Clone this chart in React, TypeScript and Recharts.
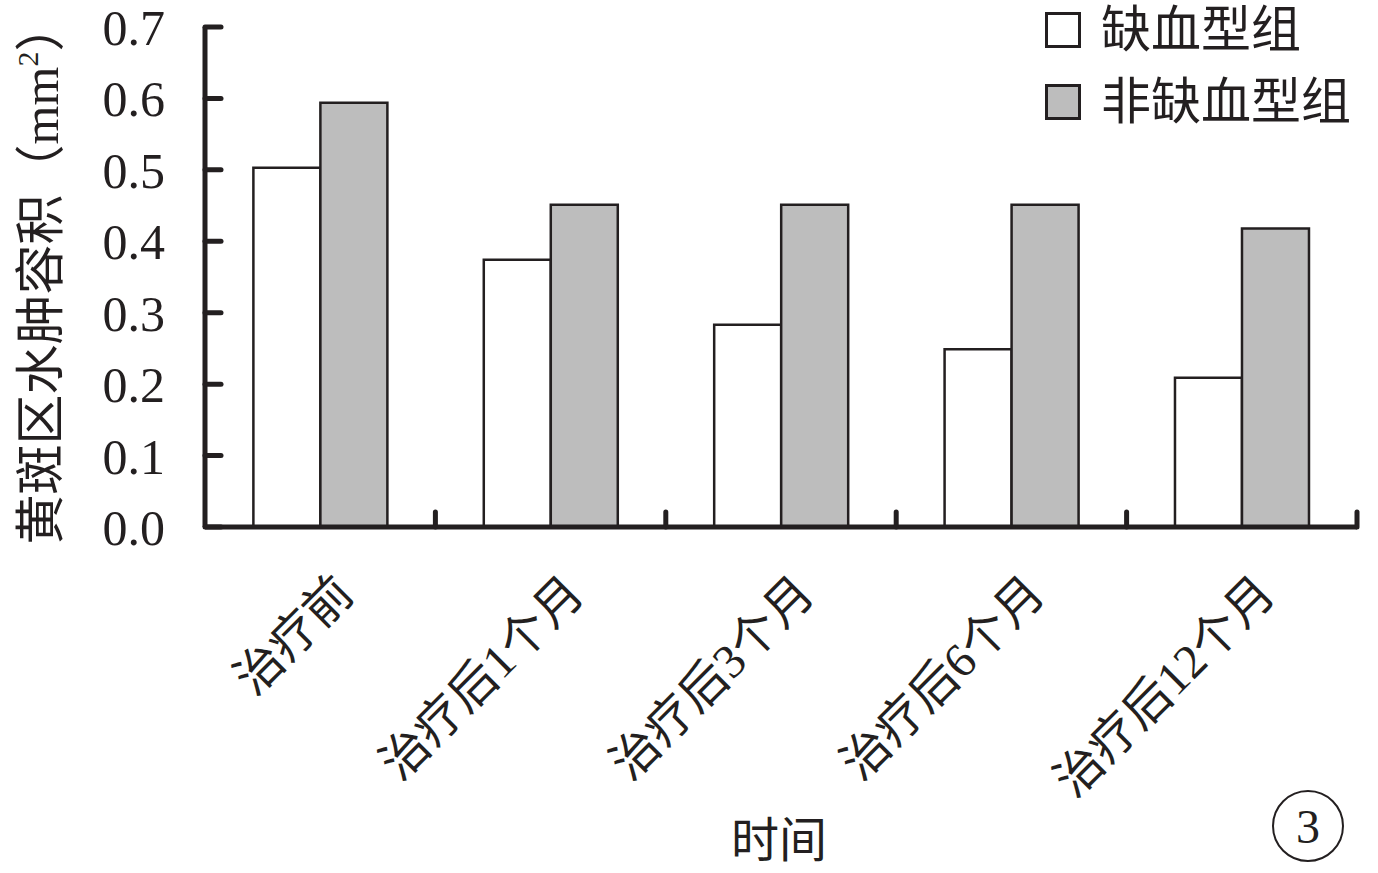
import React from 'react';
import { BarChart, Bar, XAxis, YAxis, Legend } from 'recharts';

const categories = ['治疗前', '治疗后1个月', '治疗后3个月', '治疗后6个月', '治疗后12个月'];
const ischemic = [0.503, 0.374, 0.283, 0.249, 0.209];
const nonIschemic = [0.594, 0.451, 0.451, 0.451, 0.418];
const yTicks = [0, 0.1, 0.2, 0.3, 0.4, 0.5, 0.6, 0.7];
const seriesNames = ['缺血型组', '非缺血型组'];

const INK = '#231f20';
const GRAY = '#bdbdbd';
const FONT = '"Liberation Serif", "Noto Sans CJK SC", serif';

const data = categories.map((name, i) => ({
  name,
  ischemic: ischemic[i],
  nonIschemic: nonIschemic[i],
}));

// y ticks point inward (to the right of the axis)
const YTick = (props: any) => {
  const { x, y, payload } = props;
  return (
    <g>
      <line x1={x} y1={y} x2={x + 16} y2={y} stroke={INK} strokeWidth={5} strokeLinecap="round" />
      <text x={x - 40} y={y + 18} textAnchor="end" fontSize={50} fill={INK} fontFamily={FONT}>
        {Number(payload.value).toFixed(1)}
      </text>
    </g>
  );
};

// x ticks sit on the category boundaries and point up; labels rotated
const XTick = (props: any) => {
  const { x, y, payload } = props;
  const half = payload.offset || 115.2;
  const bx = x + half;
  const ax = x + 36;
  const ay = y + 69;
  return (
    <g>
      <line x1={bx} y1={y} x2={bx} y2={y - 15} stroke={INK} strokeWidth={5} strokeLinecap="round" />
      <text
        x={ax}
        y={ay}
        textAnchor="end"
        fontSize={48}
        fill={INK}
        fontFamily={FONT}
        transform={`rotate(-45, ${ax}, ${ay})`}
      >
        {payload.value}
      </text>
    </g>
  );
};

const YLabel = (props: any) => {
  const vb = props.viewBox || { x: 0, y: 27, width: 205, height: 500 };
  const cx = vb.x + 58;
  const cy = vb.y + vb.height / 2 - 4;
  return (
    <text
      x={cx}
      y={cy}
      textAnchor="middle"
      fontSize={50}
      fill={INK}
      fontFamily={FONT}
      transform={`rotate(-90, ${cx}, ${cy})`}
    >
      黄斑区水肿容积（mm<tspan fontSize={30} dy={-20}>2</tspan>
      <tspan dy={20}>）</tspan>
    </text>
  );
};

const XLabel = () => (
  <text x={779} y={857} textAnchor="middle" fontSize={48} fill={INK} fontFamily={FONT}>
    时间
  </text>
);

const renderLegend = () => (
  <div style={{ fontFamily: FONT, color: INK, fontSize: 50 }}>
    {seriesNames.map((n, i) => (
      <div key={n} style={{ display: 'flex', alignItems: 'center', height: 72 }}>
        <div
          style={{
            width: 30,
            height: 30,
            border: `3px solid ${INK}`,
            background: i === 0 ? '#fff' : GRAY,
            marginRight: 20,
          }}
        />
        <span style={{ lineHeight: '50px' }}>{n}</span>
      </div>
    ))}
  </div>
);

export default function App() {
  return (
    <div style={{ position: 'absolute', left: 0, top: 0, width: 1378, height: 873, background: '#fff' }}>
      <BarChart
        width={1378}
        height={873}
        data={data}
        margin={{ top: 27, right: 21, bottom: 46, left: 0 }}
        barGap={0}
        barCategoryGap="21%"
      >
        <XAxis
          dataKey="name"
          height={300}
          tick={<XTick />}
          tickLine={false}
          tickSize={0}
          tickMargin={0}
          interval={0}
          axisLine={{ stroke: INK, strokeWidth: 5 }}
          label={<XLabel />}
        />
        <YAxis
          width={205}
          domain={[0, 0.7]}
          ticks={yTicks}
          tick={<YTick />}
          tickLine={false}
          tickSize={0}
          tickMargin={0}
          interval={0}
          axisLine={{ stroke: INK, strokeWidth: 5 }}
          label={<YLabel />}
        />
        <Legend
          layout="horizontal"
          verticalAlign="middle"
          align="center"
          content={renderLegend}
          wrapperStyle={{ position: 'absolute', top: -6, left: 1045, width: 330 }}
        />
        <Bar dataKey="ischemic" name={seriesNames[0]} fill="#fff" stroke={INK} strokeWidth={2.5} isAnimationActive={false} />
        <Bar dataKey="nonIschemic" name={seriesNames[1]} fill={GRAY} stroke={INK} strokeWidth={2.5} isAnimationActive={false} />
      </BarChart>
      <div
        style={{
          position: 'absolute',
          left: 1272,
          top: 790,
          width: 72,
          height: 72,
          border: `2.5px solid ${INK}`,
          borderRadius: '50%',
          display: 'flex',
          alignItems: 'center',
          justifyContent: 'center',
          fontFamily: FONT,
          fontSize: 48,
          color: INK,
          boxSizing: 'border-box',
        }}
      >
        3
      </div>
    </div>
  );
}
